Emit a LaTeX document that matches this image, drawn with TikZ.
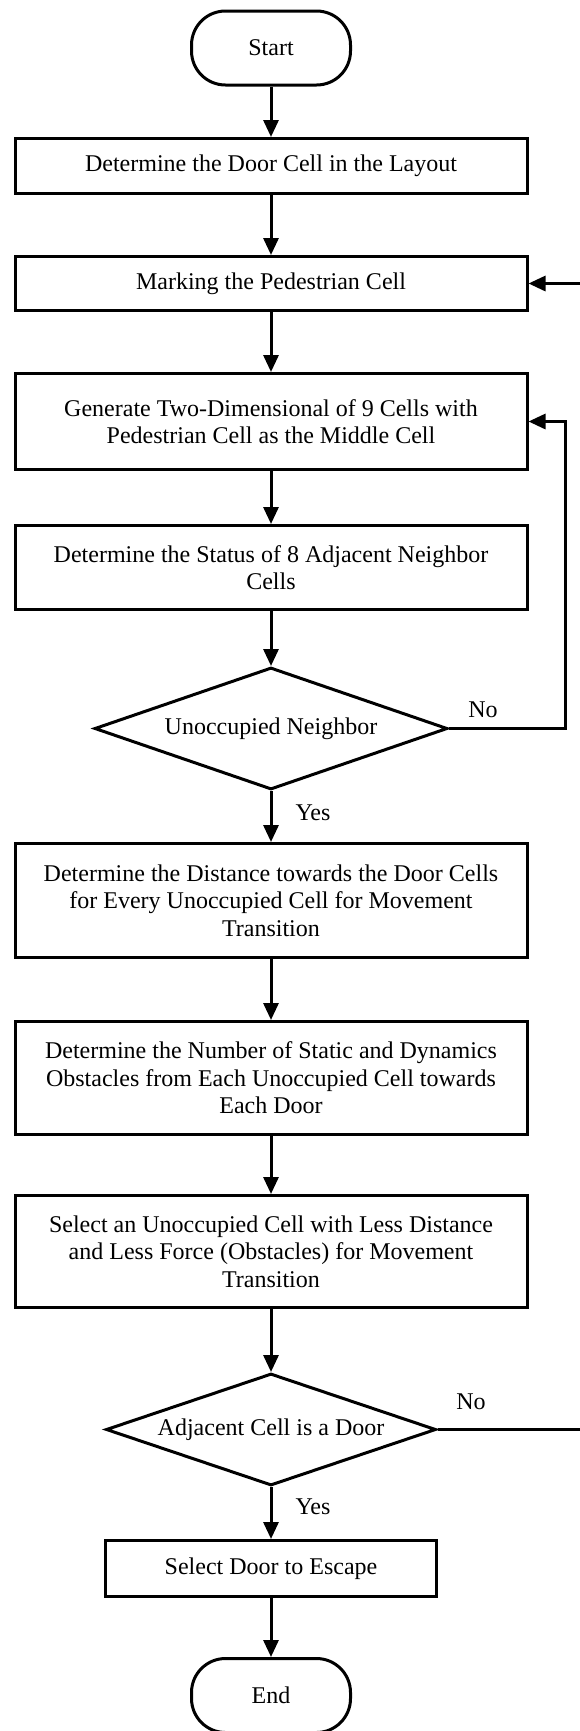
\documentclass[tikz,border=0pt]{standalone}
\usepackage{fontspec}
\setmainfont{Liberation Serif}
\usetikzlibrary{arrows.meta,shapes.geometric}
\tikzset{
  base/.style={draw=black, line width=1.5pt, align=center, inner sep=0pt,
    font=\fontsize{12}{13.8}\selectfont},
  term/.style={base, rounded corners=17pt, minimum width=79.5pt, minimum height=37pt},
  proc/.style={base, rectangle, minimum width=256pt},
  dec/.style={base, diamond, shape aspect=2.9},
  arr/.style={line width=1.5pt, -{Triangle[length=8.5pt,width=7.5pt]}},
  lbl/.style={font=\fontsize{12}{13.8}\selectfont, inner sep=0pt},
}
\begin{document}
\begin{tikzpicture}[x=0.5pt,y=-0.5pt]
\useasboundingbox (0,0) rectangle (579,1731);
\node[term] (start) at (271,48) {Start};
\node[proc, minimum height=27.5pt] (b1) at (271,166) {Determine the Door Cell in the Layout};
\node[proc, minimum height=27pt] (b2) at (271,283.5) {Marking the Pedestrian Cell};
\node[proc, minimum height=48pt] (b3) at (271,421.5) {Generate Two-Dimensional of 9 Cells with\\Pedestrian Cell as the Middle Cell};
\node[proc, minimum height=42pt] (b4) at (271,567.5) {Determine the Status of 8 Adjacent Neighbor\\Cells};
\node[dec, minimum width=176.5pt, minimum height=61pt] (d1) at (271,728.5) {Unoccupied Neighbor};
\node[proc, minimum height=57pt] (b5) at (271,900.5) {Determine the Distance towards the Door Cells\\for Every Unoccupied Cell for Movement\\Transition};
\node[proc, minimum height=56.5pt] (b6) at (271,1078) {Determine the Number of Static and Dynamics\\Obstacles from Each Unoccupied Cell towards\\Each Door};
\node[proc, minimum height=56pt] (b7) at (271,1251.5) {Select an Unoccupied Cell with Less Distance\\and Less Force (Obstacles) for Movement\\Transition};
\node[dec, minimum width=165pt, minimum height=56pt] (d2) at (271,1429.5) {Adjacent Cell is a Door};
\node[proc, minimum width=165.5pt, minimum height=28pt] (b8) at (271,1568.5) {Select Door to Escape};
\node[term] (end) at (271,1695.5) {End};

\draw[arr] (start) -- (b1);
\draw[arr] (b1) -- (b2);
\draw[arr] (b2) -- (b3);
\draw[arr] (b3) -- (b4);
\draw[arr] (b4) -- (d1);
\draw[arr] (d1) -- (b5);
\draw[arr] (b5) -- (b6);
\draw[arr] (b6) -- (b7);
\draw[arr] (b7) -- (d2);
\draw[arr] (d2) -- (b8);
\draw[arr] (b8) -- (end);

\coordinate (r1) at (565,728.5);
\coordinate (r2) at (583,1429.5);
\draw[arr] (d1.east) -- (r1) |- (b3.east);
\draw[arr] (d2.east) -- (r2) |- (b2.east);

\node[lbl] (no1) at (483,710) {No};
\node[lbl] (yes1) at (313,813) {Yes};
\node[lbl] (no2) at (471,1402) {No};
\node[lbl] (yes2) at (313,1507) {Yes};
\end{tikzpicture}
\end{document}
